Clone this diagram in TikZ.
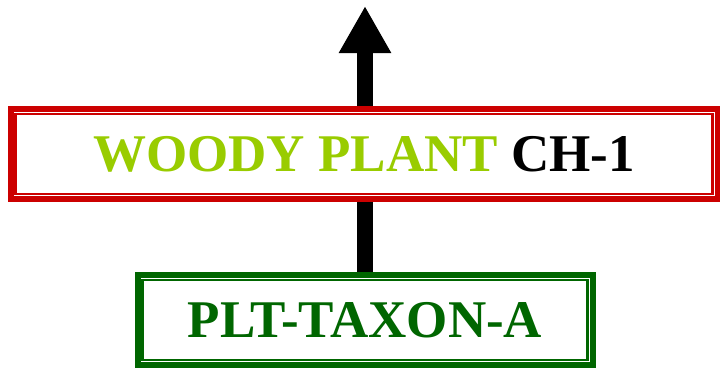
\documentclass[tikz,border=0pt]{standalone}
\usepackage{fontspec}
\setmainfont{Liberation Serif}
\usepackage{xcolor}
\usepackage{tikz}
\usetikzlibrary{arrows.meta,positioning}
\definecolor{boxred}{RGB}{204,0,0}
\definecolor{limegreen}{RGB}{153,204,0}
\definecolor{darkgreen}{RGB}{0,102,0}
\tikzset{
    classbox/.style = {rectangle, line width=6pt, inner sep=0pt, text centered, fill=white, font=\fontsize{53pt}{60pt}\selectfont\bfseries},
    rank/.style = {classbox, draw=boxred, minimum width=707pt, minimum height=90pt},
    taxon/.style = {classbox, draw=darkgreen, minimum width=455pt, minimum height=90pt, text=darkgreen},
    innerline/.style = {line width=2.5pt},
    link/.style = {line width=16pt, black}
}

\begin{document}
\begin{tikzpicture}[x=1pt, y=1pt]
    \useasboundingbox (0,0) rectangle (720,-368);

    % Entities
    \node [taxon] (plt) at (365,-320) {PLT-TAXON-A};
    \node [rank] (woody) at (364,-154) {\textcolor{limegreen}{WOODY PLANT} CH-1};
    \coordinate (top) at (365,-6);

    % inner frames
    \draw [innerline, draw=boxred] ([shift={(8,-8)}]woody.north west) rectangle ([shift={(-8,8)}]woody.south east);
    \draw [innerline, draw=darkgreen] ([shift={(8,-8)}]plt.north west) rectangle ([shift={(-8,8)}]plt.south east);

    % Relations
    \draw [link] (plt.north) -- (plt.north |- woody.south);
    \draw [link, -{Triangle[width=49pt, length=47pt]}] (top |- woody.north) -- (top);
\end{tikzpicture}
\end{document}
